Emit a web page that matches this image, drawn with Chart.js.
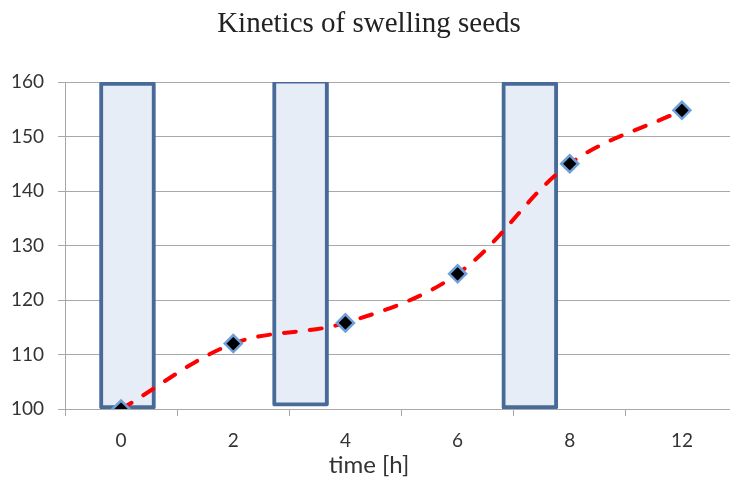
<!DOCTYPE html>
<html>
<head>
<meta charset="utf-8">
<script src="https://cdn.jsdelivr.net/npm/chart.js@4"></script>
<style>
  html, body { margin: 0; padding: 0; background: #ffffff; overflow: hidden; }
  #wrap { width: 740px; height: 477px; }
  canvas { display: block; }
</style>
</head>
<body>
<div id="wrap"><canvas id="c" width="740" height="477"></canvas></div>
<script>
// ---- data ----
const timeLabels = ['0', '2', '4', '6', '8', '12'];
const swelling = [100, 112, 115.8, 124.8, 145, 154.8];
// highlight rectangles: position on the category index scale, and value range
const bandPositions = [0.057, 1.6, 3.644];
const bandRanges = [[100, 160], [100.5, 160.4], [100, 160]];
const yTicks = [100, 110, 120, 130, 140, 150, 160];

const bandData = bandPositions.map((p, i) => ({ x: p, y: bandRanges[i] }));

const tickFont = { family: 'Lato, "Open Sans", sans-serif', size: 19 };
const gridColor = '#a8a8a8';
const textColor = '#333333';

new Chart(document.getElementById('c'), {
  type: 'line',
  data: {
    labels: timeLabels,
    datasets: [
      {
        type: 'line',
        label: 'swelling',
        data: swelling,
        xAxisID: 'x',
        yAxisID: 'y',
        order: 1,
        borderColor: '#ff0000',
        borderWidth: 4,
        borderDash: [12, 14],
        borderCapStyle: 'round',
        tension: 0.35,
        fill: false,
        pointStyle: 'rectRot',
        pointRadius: 8.5,
        pointBackgroundColor: '#000000',
        pointBorderColor: '#6f9fd9',
        pointBorderWidth: 2.5
      },
      {
        type: 'bar',
        label: 'bands',
        data: bandData,
        xAxisID: 'x2',
        yAxisID: 'y',
        order: 2,
        grouped: false,
        categoryPercentage: 1,
        barPercentage: 1,
        backgroundColor: '#e6edf6',
        borderColor: '#476a98',
        borderWidth: 4,
        borderSkipped: false,
        borderRadius: 2,
        maxBarThickness: 56
      }
    ]
  },
  options: {
    responsive: false,
    devicePixelRatio: 1,
    animation: false,
    layout: { autoPadding: false, padding: { left: 0, top: 0, bottom: 0, right: 2 } },
    plugins: {
      legend: { display: false },
      tooltip: { enabled: false },
      title: {
        display: true,
        text: 'Kinetics of swelling seeds',
        color: '#222222',
        font: { family: '"Liberation Serif", "Times New Roman", serif', size: 29, weight: 'normal', lineHeight: 1.2 },
        padding: { top: 7, bottom: 40.2 }
      },
      subtitle: {
        display: true,
        position: 'bottom',
        text: 'time [h]',
        color: textColor,
        font: { family: 'Lato, "Open Sans", sans-serif', size: 24, weight: 'normal', lineHeight: 1 },
        padding: { top: 0, bottom: 0 }
      }
    },
    scales: {
      x: {
        type: 'category',
        offset: true,
        grid: {
          offset: true,
          drawOnChartArea: false,
          drawTicks: true,
          tickLength: 7,
          color: gridColor
        },
        border: { color: gridColor, width: 1 },
        ticks: { color: textColor, font: tickFont, padding: 13 },
        afterFit: (s) => { s.height = 44; }
      },
      x2: {
        type: 'linear',
        display: false,
        min: -0.5,
        max: 5.5,
        offset: false,
        ticks: { display: false, stepSize: 1 },
        afterFit: (s) => { s.paddingLeft = 0; s.paddingRight = 0; s.height = 0; }
      },
      y: {
        min: 100,
        max: 160,
        afterBuildTicks: (s) => { s.ticks = yTicks.map(v => ({ value: v })); },
        grid: { color: gridColor, tickLength: 7, lineWidth: 1 },
        border: { color: gridColor, width: 1 },
        ticks: { color: textColor, font: tickFont, padding: 14 },
        afterFit: (s) => { s.width = 65; }
      }
    }
  }
});
</script>
</body>
</html>
